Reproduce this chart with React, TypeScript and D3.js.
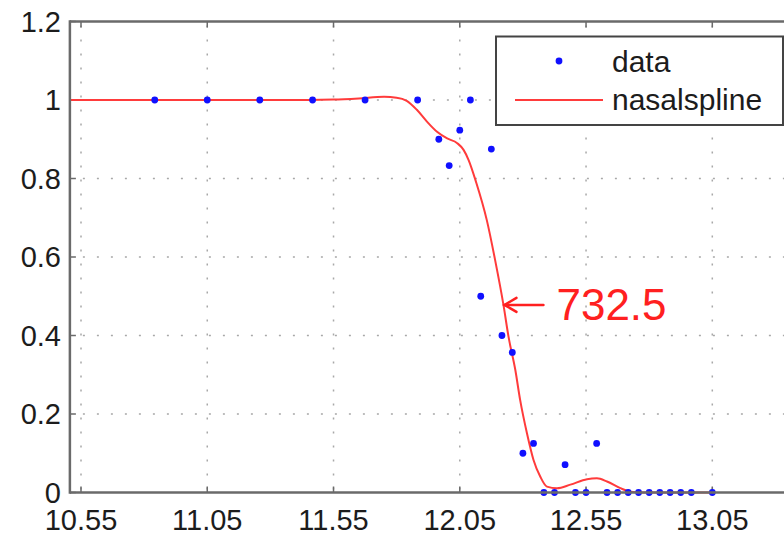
import React from "react";
import * as d3 from "d3";

// ---- data ----
const dataX = [
  10.842, 11.05, 11.258, 11.467, 11.675, 11.883, 11.967, 12.008, 12.05, 12.092,
  12.133, 12.175, 12.217, 12.258, 12.3, 12.342, 12.383, 12.425, 12.467, 12.508,
  12.55, 12.592, 12.633, 12.675, 12.717, 12.758, 12.8, 12.842, 12.883, 12.925,
  12.967, 13.05,
];
const dataY = [
  1, 1, 1, 1, 1, 1, 0.9, 0.833, 0.923, 1,
  0.5, 0.875, 0.4, 0.357, 0.1, 0.125, 0, 0, 0.071, 0,
  0, 0.125, 0, 0, 0, 0, 0, 0, 0, 0,
  0, 0,
];
const splineX = [
  10.506, 11.45, 11.55, 11.65, 11.75, 11.8, 11.84, 11.88, 11.92, 11.96,
  12.0, 12.04, 12.065, 12.085, 12.115, 12.157, 12.19, 12.223, 12.243, 12.27,
  12.289, 12.316, 12.342, 12.369, 12.395, 12.435, 12.488, 12.554, 12.593, 12.633,
  12.686, 12.726, 12.77, 13.05,
];
const splineY = [
  1, 1, 1.001, 1.004, 1.008, 1.006, 0.998, 0.975, 0.945, 0.919,
  0.902, 0.89, 0.873, 0.847, 0.79, 0.694, 0.592, 0.478, 0.397, 0.312,
  0.236, 0.151, 0.083, 0.04, 0.015, 0.011, 0.02, 0.034, 0.036, 0.028,
  0.011, 0.002, 0, 0,
];
const xTicks = [10.55, 11.05, 11.55, 12.05, 12.55, 13.05];
const xTickLabels = ["10.55", "11.05", "11.55", "12.05", "12.55", "13.05"];
const yTicks = [0, 0.2, 0.4, 0.6, 0.8, 1, 1.2];
const yTickLabels = ["0", "0.2", "0.4", "0.6", "0.8", "1", "1.2"];
const seriesNames = ["data", "nasalspline"];
const annotation = { x: 12.223, y: 0.478, label: "732.5" };

const W = 784;
const H = 538;
const xMin = 10.506;
const xMax = 13.7;

export default function App() {
  const x = d3.scaleLinear().domain([10.55, 13.05]).range([81, 712.3]);
  const y = d3.scaleLinear().domain([0, 1.2]).range([492.5, 21.5]);
  const left = x(xMin);
  const right = x(xMax);
  const top = y(1.2);
  const bottom = y(0);

  const line = d3
    .line<number>()
    .x((_, i) => x(splineX[i]))
    .y((d) => y(d))
    .curve(d3.curveMonotoneX);

  const font = "'Liberation Sans', Arial, Helvetica, sans-serif";
  const axisColor = "#6a6a6a";
  const gridColor = "#a8a8a8";
  const tickLen = 6;

  const ax = x(annotation.x);
  const ay = y(annotation.y);

  return (
    <svg
      width={W}
      height={H}
      style={{ position: "absolute", left: 0, top: 0, background: "#fff" }}
    >
      <rect x={0} y={0} width={W} height={H} fill="#fff" />
      {/* grid */}
      {xTicks.map((t) => (
        <line
          key={"gx" + t}
          x1={x(t)}
          x2={x(t)}
          y1={top}
          y2={bottom}
          stroke={gridColor}
          strokeWidth={1.5}
          strokeDasharray="2,12"
          strokeDashoffset={-4}
        />
      ))}
      {yTicks
        .filter((t) => t > 0 && t < 1.2)
        .map((t) => (
          <line
            key={"gy" + t}
            x1={left}
            x2={right}
            y1={y(t)}
            y2={y(t)}
            stroke={gridColor}
            strokeWidth={1.5}
            strokeDasharray="2,12"
            strokeDashoffset={1}
          />
        ))}
      {/* ticks */}
      {xTicks.map((t) => (
        <g key={"tx" + t}>
          <line x1={x(t)} x2={x(t)} y1={top} y2={top + tickLen} stroke={axisColor} strokeWidth={1.5} />
          <line x1={x(t)} x2={x(t)} y1={bottom} y2={bottom - tickLen} stroke={axisColor} strokeWidth={1.5} />
        </g>
      ))}
      {yTicks.map((t) => (
        <line key={"ty" + t} x1={left} x2={left + tickLen} y1={y(t)} y2={y(t)} stroke={axisColor} strokeWidth={1.5} />
      ))}
      {/* spline */}
      <path d={line(splineY) || ""} fill="none" stroke="#ff3b3b" strokeWidth={2} />
      {/* data points */}
      {dataX.map((d, i) => (
        <circle key={"p" + i} cx={x(d)} cy={y(dataY[i])} r={3.4} fill="#1010ff" />
      ))}
      {/* axes frame */}
      <line x1={left} x2={right} y1={top} y2={top} stroke={axisColor} strokeWidth={2.5} />
      <line x1={left} x2={right} y1={bottom} y2={bottom} stroke={axisColor} strokeWidth={2.5} />
      <line x1={left} x2={left} y1={top - 1.25} y2={bottom + 1.25} stroke={axisColor} strokeWidth={2.5} />
      {/* tick labels */}
      {xTicks.map((t, i) => (
        <text
          key={"lx" + t}
          x={x(t)}
          y={530}
          textAnchor="middle"
          fontFamily={font}
          fontSize={29}
          fill="#1c1c1c"
        >
          {xTickLabels[i]}
        </text>
      ))}
      {yTicks.map((t, i) => (
        <text
          key={"ly" + t}
          x={61}
          y={y(t) + 10}
          textAnchor="end"
          fontFamily={font}
          fontSize={29}
          fill="#1c1c1c"
        >
          {yTickLabels[i]}
        </text>
      ))}
      {/* annotation */}
      <g stroke="#ff2020" strokeWidth={2.5} fill="none" strokeLinecap="round">
        <line x1={ax + 1} x2={ax + 40} y1={ay} y2={ay} />
        <polyline points={`${ax + 13},${ay - 7} ${ax + 1},${ay} ${ax + 13},${ay + 7}`} />
      </g>
      <text
        x={ax + 53}
        y={ay + 15}
        fontFamily={font}
        fontSize={44}
        fill="#ff2020"
      >
        {annotation.label}
      </text>
      {/* legend */}
      <rect x={496} y={36.5} width={287} height={88.5} fill="#fff" stroke="#444" strokeWidth={2} />
      <circle cx={559} cy={61} r={3.4} fill="#1010ff" />
      <text x={612} y={71.5} fontFamily={font} fontSize={30} fill="#1c1c1c">
        {seriesNames[0]}
      </text>
      <line x1={515} x2={603} y1={100} y2={100} stroke="#ff3b3b" strokeWidth={2} />
      <text x={612} y={110} fontFamily={font} fontSize={30} fill="#1c1c1c">
        {seriesNames[1]}
      </text>
    </svg>
  );
}
